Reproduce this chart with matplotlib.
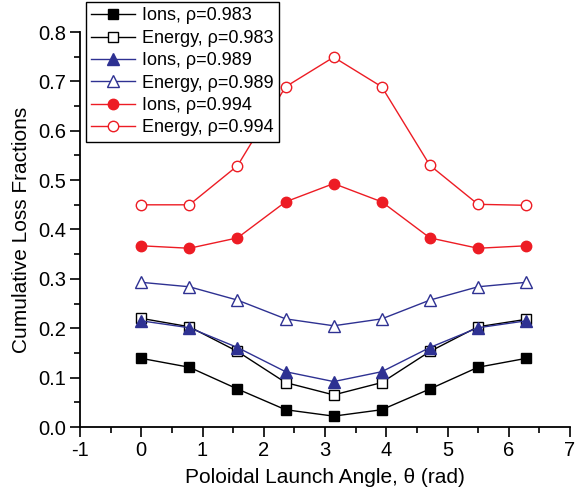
import numpy as np
from matplotlib import pyplot as plt
from matplotlib.ticker import MultipleLocator

plt.rcParams['font.family'] = ['Liberation Sans', 'DejaVu Sans']
plt.rcParams['axes.unicode_minus'] = False

# poloidal launch angle, 0 .. 2pi in steps of pi/4
theta = np.arange(9) * np.pi / 4

ions_983 = [0.139, 0.121, 0.077, 0.035, 0.022, 0.035, 0.077, 0.121, 0.139]
energy_983 = [0.220, 0.203, 0.153, 0.090, 0.065, 0.090, 0.153, 0.203, 0.218]
ions_989 = [0.215, 0.201, 0.161, 0.112, 0.092, 0.112, 0.161, 0.201, 0.215]
energy_989 = [0.293, 0.284, 0.257, 0.219, 0.205, 0.219, 0.257, 0.284, 0.293]
ions_994 = [0.367, 0.362, 0.383, 0.456, 0.493, 0.456, 0.383, 0.362, 0.367]
energy_994 = [0.450, 0.450, 0.529, 0.689, 0.749, 0.689, 0.530, 0.451, 0.449]

blue = '#2E3192'
red = '#ED1C24'

fig = plt.figure(figsize=(5.75, 4.94), dpi=100)
ax = fig.add_axes([80/575, 1 - 427/494, 490/575, 395/494])

ax.plot(theta, ions_983, '-s', color='black', mfc='black', ms=7, lw=1, label='Ions, ρ=0.983')
ax.plot(theta, energy_983, '-s', color='black', mfc='white', ms=7, lw=1, label='Energy, ρ=0.983')
ax.plot(theta, ions_989, '-^', color=blue, mfc=blue, ms=8, lw=1, label='Ions, ρ=0.989')
ax.plot(theta, energy_989, '-^', color=blue, mfc='white', ms=9, lw=1, label='Energy, ρ=0.989')
ax.plot(theta, ions_994, '-o', color=red, mfc=red, ms=7.5, lw=1, label='Ions, ρ=0.994')
ax.plot(theta, energy_994, '-o', color=red, mfc='white', ms=7.5, lw=1, label='Energy, ρ=0.994')

ax.set_xlim(-1, 7)
ax.set_ylim(0, 0.8)
ax.xaxis.set_major_locator(MultipleLocator(1))
ax.xaxis.set_minor_locator(MultipleLocator(0.5))
ax.yaxis.set_major_locator(MultipleLocator(0.1))
ax.yaxis.set_minor_locator(MultipleLocator(0.05))
ax.yaxis.set_major_formatter(lambda v, p: f'{v:.1f}')
ax.tick_params(which='major', direction='out', length=7, width=1.2, labelsize=14.5, pad=3)
ax.tick_params(which='minor', direction='out', length=4, width=1.2)
for s in ['top', 'right']:
    ax.spines[s].set_visible(False)
for s in ['left', 'bottom']:
    ax.spines[s].set_linewidth(1.3)

ax.set_xlabel('Poloidal Launch Angle, θ (rad)', fontsize=15, labelpad=6)
ax.set_ylabel('Cumulative Loss Fractions', fontsize=15, labelpad=5)

leg = ax.legend(loc='upper left', bbox_to_anchor=(86/575, 1 - 2/494), bbox_transform=fig.transFigure,
                borderaxespad=0, fontsize=13, fancybox=False, edgecolor='black', framealpha=1,
                labelspacing=0.3, handlelength=2.4, handletextpad=0.4, borderpad=0.3)
leg.get_frame().set_linewidth(1)

fig.savefig('out.png', dpi=100)
